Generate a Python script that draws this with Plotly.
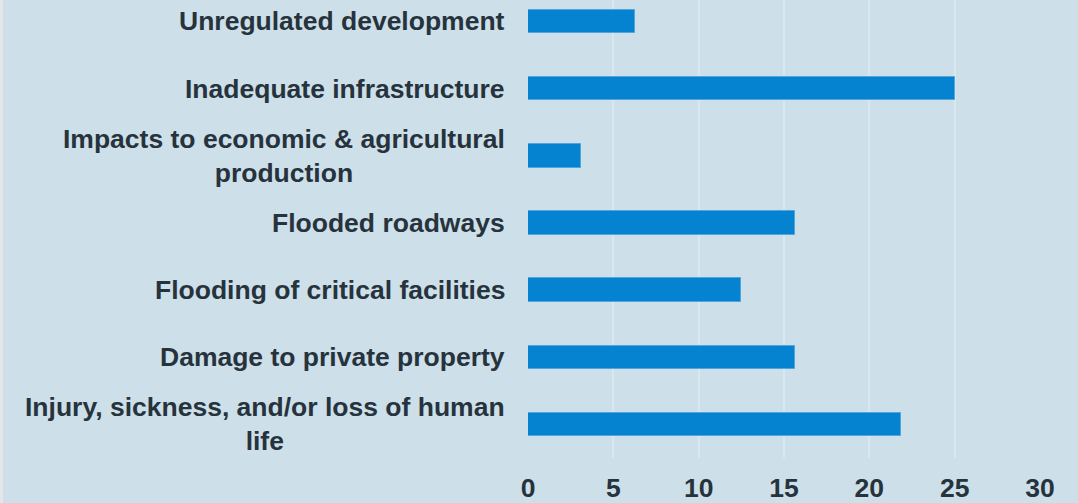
import plotly.graph_objects as go

categories = [
    "Injury, sickness, and/or loss of human<br>life",
    "Damage to private property",
    "Flooding of critical facilities",
    "Flooded roadways",
    "Impacts to economic & agricultural<br>production",
    "Inadequate infrastructure",
    "Unregulated development",
]
values = [21.875, 15.625, 12.5, 15.625, 3.125, 25.0, 6.25]
x_ticks = [0, 5, 10, 15, 20, 25, 30]

BG = "#cddfe9"
BAR = "#0683d0"
TXT = "#27333c"
FONT = "Liberation Sans"

fig = go.Figure()
fig.add_trace(go.Bar(
    x=values, y=categories, orientation="h", width=0.35,
    marker=dict(color=BAR, line=dict(color="#4fa6dd", width=1)),
))

for c in categories:
    fig.add_annotation(
        x=0, xref="paper", y=c, yref="y", text=c, showarrow=False,
        xanchor="right", yanchor="middle", align="center", xshift=-21,
        font=dict(family=FONT, size=26.5, color=TXT, weight="bold"),
    )

fig.add_shape(type="rect", xref="paper", yref="paper", xsizemode="pixel",
              xanchor=0, x0=-530, x1=-525, y0=-1, y1=1.1,
              fillcolor="#e4e6e8", line=dict(width=0), layer="below")

fig.update_layout(
    width=1078, height=503,
    margin=dict(l=528, r=38, t=0, b=40, pad=0),
    paper_bgcolor=BG, plot_bgcolor=BG,
    showlegend=False,
    bargap=0,
    xaxis=dict(range=[0, 30], tickvals=x_ticks, showgrid=True, gridcolor="#dbe7ee",
               gridwidth=2, zeroline=False, showline=False, ticks="",
               ticklabelstandoff=11,
               tickfont=dict(family=FONT, size=26.5, color=TXT, weight="bold")),
    yaxis=dict(range=[-0.5, 6.32], showticklabels=False, showgrid=False,
               zeroline=False, showline=False, ticks=""),
)

fig.write_html("out.html", config={"displayModeBar": False},
               post_script="document.body.style.margin='0';document.body.style.padding='0';document.body.style.background='#cddfe9';")
